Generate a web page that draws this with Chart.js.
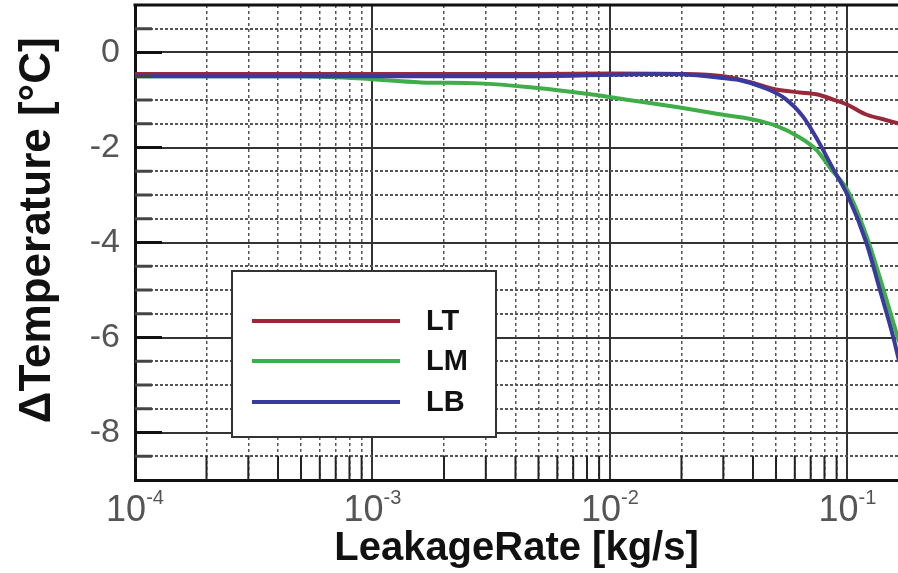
<!DOCTYPE html>
<html>
<head>
<meta charset="utf-8">
<script src="https://cdn.jsdelivr.net/npm/chart.js@4.4.1/dist/chart.umd.min.js"></script>
<style>
  body { margin: 0; background: #fff; }
  canvas { display: block; }
</style>
</head>
<body>
<canvas id="chart" width="898" height="573"></canvas>
<script>
// series: leakage rate [kg/s] and temperature change [°C]
const ltRate = [1e-4, 1e-3, 5e-3, 1e-2, 2e-2, 3e-2, 4e-2, 5e-2, 6.3e-2, 7.4e-2, 8.7e-2, 1e-1, 1.19e-1, 1.4e-1, 1.65e-1];
const ltTemp = [-0.45, -0.45, -0.45, -0.44, -0.45, -0.5, -0.64, -0.78, -0.84, -0.88, -0.99, -1.1, -1.3, -1.4, -1.5];

const lmRate = [1e-4, 5e-4, 9e-4, 1.6e-3, 2.8e-3, 4.6e-3, 8.9e-3, 1.2e-2, 1.97e-2, 2.9e-2, 4e-2, 5e-2, 6.3e-2, 7.4e-2, 8.5e-2, 1e-1, 1.2e-1, 1.4e-1, 1.65e-1];
const lmTemp = [-0.5, -0.5, -0.55, -0.63, -0.65, -0.73, -0.9, -1.0, -1.16, -1.3, -1.41, -1.54, -1.79, -2.05, -2.45, -2.9, -3.85, -4.9, -6.1];

const lbRate = [1e-4, 1e-3, 5e-3, 1e-2, 1.5e-2, 2e-2, 2.9e-2, 3.5e-2, 4.5e-2, 5.5e-2, 6.5e-2, 7.5e-2, 8.7e-2, 1e-1, 1.2e-1, 1.37e-1, 1.56e-1, 1.65e-1];
const lbTemp = [-0.5, -0.5, -0.5, -0.47, -0.45, -0.46, -0.53, -0.58, -0.75, -0.98, -1.35, -1.85, -2.45, -3.0, -4.0, -5.0, -6.0, -6.5];

const seriesNames = ["LT", "LM", "LB"];
const seriesColors = ["#98283a", "#3fae48", "#3a3a9e"];

// axis ticks
const xMajor = [1e-4, 1e-3, 1e-2, 1e-1];
const xExponents = ["-4", "-3", "-2", "-1"];
const xMinor = [2e-4, 3e-4, 4e-4, 5e-4, 6e-4, 7e-4, 8e-4, 9e-4,
                2e-3, 3e-3, 4e-3, 5e-3, 6e-3, 7e-3, 8e-3, 9e-3,
                2e-2, 3e-2, 4e-2, 5e-2, 6e-2, 7e-2, 8e-2, 9e-2];
const yMajor = [0, -2, -4, -6, -8];
const yMinor = [0.5, -0.5, -1, -1.5, -2.5, -3, -3.5, -4.5, -5, -5.5, -6.5, -7, -7.5, -8.5];

const toPoints = (xs, ys) => xs.map((x, i) => ({ x: x, y: ys[i] }));

const font = "'Liberation Sans', Arial, sans-serif";

// frame, inward ticks, x labels with exponents and the boxed legend
const decorations = {
  id: "decorations",
  afterDraw(chart) {
    const { ctx, chartArea: a } = chart;
    const xs = chart.scales.x;
    const ys = chart.scales.y;
    const seg = (x1, y1, x2, y2) => {
      ctx.beginPath();
      ctx.moveTo(x1, y1);
      ctx.lineTo(x2, y2);
      ctx.stroke();
    };
    ctx.save();

    // left ticks
    ctx.lineWidth = 3;
    ctx.strokeStyle = "#111";
    yMajor.forEach(v => { const p = ys.getPixelForValue(v); seg(a.left, p, a.left + 27, p); });
    ctx.strokeStyle = "#444";
    yMinor.forEach(v => { const p = ys.getPixelForValue(v); seg(a.left, p, a.left + 17, p); });

    // bottom ticks
    ctx.lineWidth = 2;
    ctx.strokeStyle = "#222";
    xMinor.forEach(v => { const p = xs.getPixelForValue(v); seg(p, a.bottom, p, a.bottom - 24); });

    // top frame
    ctx.lineWidth = 3;
    ctx.strokeStyle = "#111";
    seg(a.left - 1.5, a.top, a.right, a.top);

    // x tick labels: 10 with superscript exponent
    ctx.fillStyle = "#555";
    ctx.textBaseline = "middle";
    ctx.textAlign = "left";
    xMajor.forEach((v, i) => {
      const p = xs.getPixelForValue(v);
      ctx.font = "36px " + font;
      const wBase = ctx.measureText("10").width;
      ctx.font = "20px " + font;
      const wExp = ctx.measureText(xExponents[i]).width;
      const start = p - (wBase + wExp) / 2;
      ctx.font = "36px " + font;
      ctx.fillText("10", start, a.bottom + 31);
      ctx.font = "20px " + font;
      ctx.fillText(xExponents[i], start + wBase, a.bottom + 18);
    });

    // legend box
    const lx = 232, ly = 271, lw = 264, lh = 166;
    ctx.fillStyle = "#fff";
    ctx.fillRect(lx, ly, lw, lh);
    ctx.lineWidth = 2;
    ctx.strokeStyle = "#333";
    ctx.strokeRect(lx, ly, lw, lh);
    const rows = [321, 361, 402];
    ctx.font = "bold 29px " + font;
    seriesNames.forEach((name, i) => {
      ctx.strokeStyle = seriesColors[i];
      ctx.lineWidth = 4;
      seg(252, rows[i], 400, rows[i]);
      ctx.fillStyle = "#111";
      ctx.fillText(name, 426, rows[i] + 1);
    });

    ctx.restore();
  }
};

new Chart(document.getElementById("chart"), {
  type: "line",
  data: {
    datasets: [
      { label: seriesNames[0], data: toPoints(ltRate, ltTemp), borderColor: seriesColors[0] },
      { label: seriesNames[1], data: toPoints(lmRate, lmTemp), borderColor: seriesColors[1] },
      { label: seriesNames[2], data: toPoints(lbRate, lbTemp), borderColor: seriesColors[2], order: -1 }
    ]
  },
  options: {
    responsive: false,
    animation: false,
    layout: { padding: { top: 5, right: 0, left: 0, bottom: 0 } },
    elements: {
      point: { radius: 0 },
      line: { borderWidth: 4, cubicInterpolationMode: "monotone" }
    },
    plugins: { legend: { display: false }, tooltip: { enabled: false } },
    scales: {
      x: {
        type: "logarithmic",
        position: "bottom",
        min: 1e-4,
        max: 0.1632,
        afterBuildTicks: s => { s.ticks = xMajor.map(v => ({ value: v })); },
        afterFit: s => { s.height = 93; s.paddingLeft = 0; s.paddingRight = 0; },
        ticks: { display: false },
        grid: { color: "#333", lineWidth: 2, drawTicks: false },
        border: { display: true, color: "#111", width: 3 },
        title: {
          display: true,
          text: "LeakageRate [kg/s]",
          color: "#111",
          font: { family: font, size: 40, weight: "bold", lineHeight: 1.2 },
          padding: { top: 0, bottom: 0 }
        }
      },
      x2: {
        type: "logarithmic",
        position: "bottom",
        min: 1e-4,
        max: 0.1632,
        afterBuildTicks: s => { s.ticks = xMinor.map(v => ({ value: v })); },
        afterFit: s => { s.height = 0; s.paddingLeft = 0; s.paddingRight = 0; },
        ticks: { display: false },
        grid: { color: "#555", lineWidth: 1.5, drawTicks: false },
        border: { display: false, dash: [3, 3] }
      },
      y: {
        type: "linear",
        position: "left",
        min: -9,
        max: 1,
        afterBuildTicks: s => { s.ticks = yMajor.map(v => ({ value: v })); },
        afterFit: s => { s.width = 135; s.paddingTop = 0; s.paddingBottom = 0; },
        ticks: {
          color: "#555",
          padding: 15,
          font: { family: font, size: 34 },
          callback: v => String(v)
        },
        grid: { color: "#333", lineWidth: 2, drawTicks: false },
        border: { display: true, color: "#111", width: 3 },
        title: {
          display: true,
          // leading spaces nudge the rotated title up a little
          text: "  ΔTemperature [°C]",
          color: "#111",
          font: { family: font, size: 44, weight: "bold", lineHeight: 1.2 },
          padding: { top: 11, bottom: 0 }
        }
      },
      y2: {
        type: "linear",
        position: "left",
        min: -9,
        max: 1,
        afterBuildTicks: s => { s.ticks = yMinor.map(v => ({ value: v })); },
        afterFit: s => { s.width = 0; s.paddingTop = 0; s.paddingBottom = 0; },
        ticks: { display: false },
        grid: { color: "#555", lineWidth: 2, drawTicks: false },
        border: { display: false, dash: [3, 2] }
      }
    }
  },
  plugins: [decorations]
});
</script>
</body>
</html>
